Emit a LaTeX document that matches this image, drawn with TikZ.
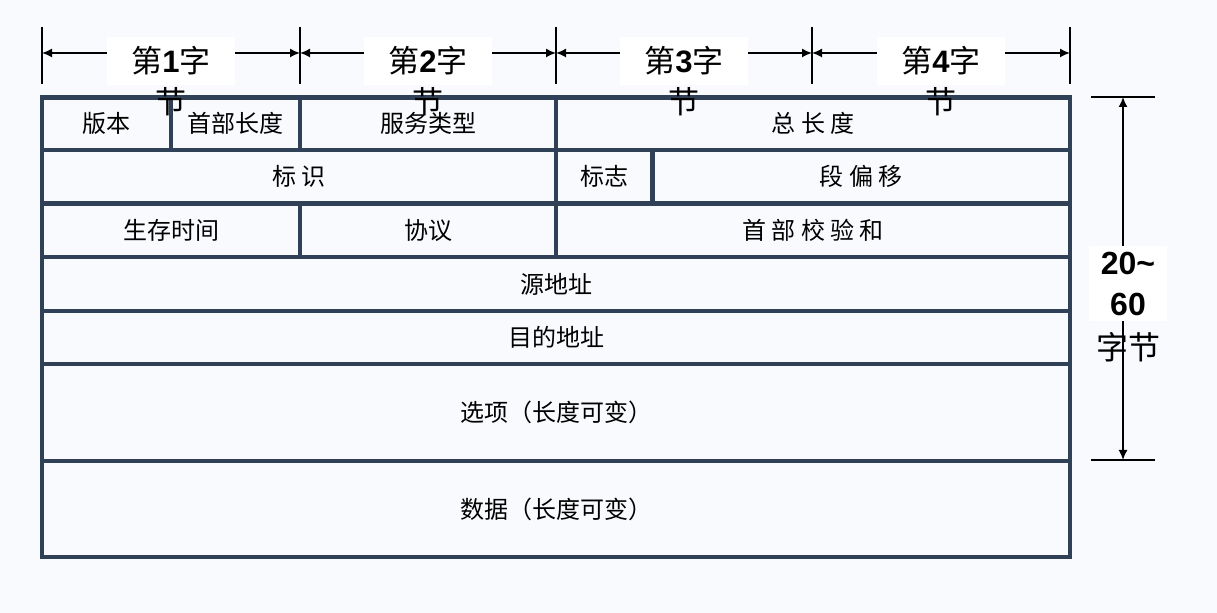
\documentclass[tikz,border=0pt]{standalone}
\usepackage{fontspec}
\setmainfont{Noto Sans CJK SC}
\newfontfamily\arial{Liberation Sans}
\usetikzlibrary{arrows.meta}
\definecolor{frame}{RGB}{48,64,86}
\definecolor{paper}{RGB}{249,250,253}

\begin{document}
\begin{tikzpicture}[x=0.5pt, y=-0.5pt,
    cell/.style={draw=frame, line width=2.2pt, inner sep=0pt, font=\fontsize{12}{14}\selectfont},
    dimline/.style={line width=0.8pt},
    dimarrow/.style={line width=0.8pt, {Latex[length=5pt,width=4.5pt]}-{Latex[length=5pt,width=4.5pt]}},
    bytelabel/.style={fill=white, inner xsep=12pt, inner ysep=5pt, font=\fontsize{15.5}{20}\selectfont}]

    % Background
    \fill[paper] (0,0) rectangle (1217,613);

    % Header fields
    \foreach \nm/\xa/\ya/\xb/\yb/\txt in {
        version/42/97.5/171/150/{版本},
        ihl/171/97.5/300/150/{首部长度},
        tos/300/97.5/556/150/{服务类型},
        totlen/556/97.5/1070/150/{总\ 长\ 度},
        ident/42/150/556/203.5/{标\ 识},
        flags/556/150/652.5/203.5/{标志},
        fragoff/652.5/150/1070/203.5/{段\ 偏\ 移},
        ttl/42/203.5/300/257/{生存时间},
        proto/300/203.5/556/257/{协议},
        hdrsum/556/203.5/1070/257/{首\ 部\ 校\ 验\ 和},
        srcaddr/42/257/1070/311/{源地址},
        dstaddr/42/311/1070/364/{目的地址},
        options/42/364/1070/461/{选项（长度可变）},
        payload/42/461/1070/557/{数据（长度可变）}}
        \node[cell, minimum width={(\xb-\xa)*0.5pt}, minimum height={(\yb-\ya)*0.5pt}]
            (\nm) at ({(\xa+\xb)/2},{(\ya+\yb)/2}) {\txt};

    % Byte ticks on top
    \foreach \i/\x in {0/42,1/300,2/556,3/812,4/1070} {
        \draw[dimline] (\x,27) -- (\x,84);
        \coordinate (tick\i) at (\x,53);
    }

    % Byte arrows and labels
    \foreach \i/\j/\n in {0/1/1,1/2/2,2/3/3,3/4/4} {
        \draw[dimarrow] (tick\i) -- (tick\j)
            node[midway, yshift=-4pt, bytelabel] (byte\n) {第{\arial\bfseries \n}字};
        \node[font=\fontsize{15.5}{20}\selectfont, inner sep=0pt] (tail\n)
            at ([yshift=-20.5pt]byte\n.center) {节};
    }

    % Total length on the right
    \draw[dimline] (1091,97) -- (1155,97);
    \draw[dimline] (1091,460) -- (1155,460);
    \coordinate (htop) at (1123,97);
    \coordinate (hbot) at (1123,460);
    \draw[dimarrow] (htop) -- (hbot)
        node[midway, xshift=2.5pt, yshift=-2.5pt, fill=white, inner xsep=6pt, inner ysep=3pt,
             align=center, font=\fontsize{16}{20.5}\selectfont\arial\bfseries] (span) {20\textasciitilde\\60};
    \node[font=\fontsize{16}{20}\selectfont, inner sep=0pt] (spanunit)
        at ([yshift=-31.75pt]span.center) {字节};

\end{tikzpicture}
\end{document}
